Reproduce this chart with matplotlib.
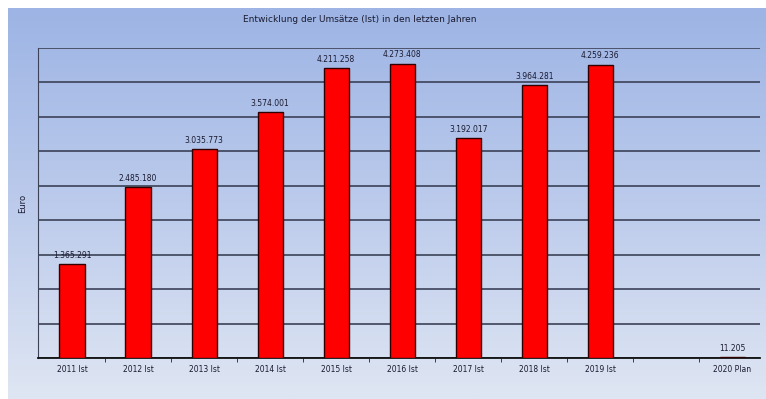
import numpy as np
import matplotlib.pyplot as plt
from matplotlib.colors import LinearSegmentedColormap

categories = ["2011 Ist", "2012 Ist", "2013 Ist", "2014 Ist", "2015 Ist",
              "2016 Ist", "2017 Ist", "2018 Ist", "2019 Ist", "", "2020 Plan"]
values = [1365291, 2485180, 3035773, 3574001, 4211258,
          4273408, 3192017, 3964281, 4259236, None, 11205]
value_labels = ["1.365.291", "2.485.180", "3.035.773", "3.574.001", "4.211.258",
                "4.273.408", "3.192.017", "3.964.281", "4.259.236", "", "11.205"]
y_ticks = [0, 500000, 1000000, 1500000, 2000000, 2500000,
           3000000, 3500000, 4000000, 4500000]

fig = plt.figure(figsize=(7.66, 3.99), dpi=100, facecolor="white")

# blue gradient panel behind everything
bg = fig.add_axes([8 / 766, 0, 758 / 766, 391 / 399], zorder=0)
grad = np.linspace(0, 1, 256).reshape(-1, 1)
cmap = LinearSegmentedColormap.from_list("panel", ["#9db4e4", "#bccbec", "#dfe6f3"])
bg.imshow(grad, aspect="auto", cmap=cmap, extent=[0, 1, 0, 1], origin="upper")
bg.axis("off")

ax = fig.add_axes([38 / 766, 41 / 399, 722 / 766, 310 / 399], zorder=1)
ax.patch.set_alpha(0)

x = np.arange(len(categories))
for xi, v, lab in zip(x, values, value_labels):
    if v is None:
        continue
    ax.bar(xi, v, width=0.38, color="#ff0000", edgecolor="#300000",
           linewidth=1.0, zorder=3)
    ax.text(xi, v + 60000, lab, ha="center", va="bottom", fontsize=5.5,
            color="#1a1a30", zorder=4)

ax.set_xlim(-0.515, 10.42)
ax.set_ylim(0, 4500000)
ax.set_yticks(y_ticks)
ax.tick_params(axis="y", left=False, labelleft=False)
ax.yaxis.grid(True, color="#3c4258", linewidth=1.2, zorder=1)

ax.set_xticks(x)
ax.set_xticklabels(categories, fontsize=5.5, color="#1a1a30")
ax.tick_params(axis="x", length=0, pad=5)
ax.set_xticks(x[:-1] + 0.5, minor=True)
ax.tick_params(axis="x", which="minor", length=3, color="#222222")

for side in ["top", "right"]:
    ax.spines[side].set_visible(False)
ax.spines["left"].set_color("#3c4258")
ax.spines["bottom"].set_color("#111111")
ax.spines["bottom"].set_linewidth(1.3)

ax.set_ylabel("Euro", fontsize=6, color="#1a1a30", labelpad=8)
fig.text(0.47, 0.952, "Entwicklung der Umsätze (Ist) in den letzten Jahren",
         ha="center", va="center", fontsize=6.5, color="#1a1a30")

fig.savefig("out.png", dpi=100)
